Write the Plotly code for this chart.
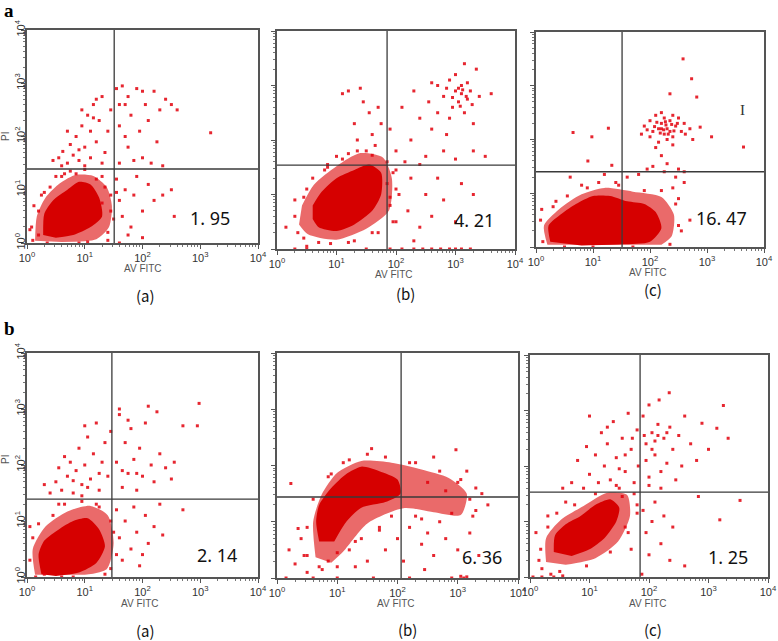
import plotly.graph_objects as go

W, H = 778, 641

# ---- data, all values in log10 decades (channel value = 10**v) ----
gate_x = [1.51, 1.85, 1.51, 1.47, 2.06, 1.85]
gate_y = [1.39, 1.54, 1.40, 1.39, 1.44, 1.53]
pct_labels = ["1. 95", "4. 21", "16. 47", "2. 14", "6. 36", "1. 25"]
sub_labels = ["(a)", "(b)", "(c)", "(a)", "(b)", "(c)"]
row_labels = ["a", "b"]
decade_ticks = [0, 1, 2, 3, 4]

# row a, panel (a)
aa_core = [(0.28, 0.15), (0.3, 0.55), (0.45, 0.8), (0.7, 1.0), (0.9, 1.15), (1.1, 1.1),
           (1.25, 0.85), (1.3, 0.5), (1.1, 0.3), (0.8, 0.15), (0.5, 0.1)]
aa_halo = [(0.14, 0.04), (0.17, 0.5), (0.32, 0.85), (0.57, 1.12), (0.85, 1.28), (1.15, 1.26),
           (1.38, 1.05), (1.47, 0.7), (1.42, 0.3), (1.2, 0.07), (0.6, 0.02)]
aa_pts = [(0.45, 1.55), (0.55, 1.6), (0.62, 1.72), (0.7, 1.5), (0.75, 1.85), (0.8, 1.65), (0.85, 2.0),
          (0.9, 1.55), (0.95, 2.2), (1.0, 1.8), (1.05, 2.4), (1.1, 1.6), (1.1, 2.1), (1.15, 2.6),
          (1.2, 1.9), (1.25, 2.3), (1.3, 2.75), (1.35, 1.7), (1.4, 2.1), (1.45, 2.5), (0.6, 1.45),
          (1.0, 1.45), (0.95, 2.5), (1.2, 2.7), (0.7, 2.1), (1.3, 1.5), (0.9, 1.75), (1.15, 2.35),
          (1.55, 2.9), (1.65, 2.95), (1.7, 2.6), (1.6, 2.2), (1.75, 1.8), (1.8, 2.4), (1.9, 2.9),
          (1.95, 2.1), (2.0, 1.6), (2.05, 2.6), (2.1, 2.3), (2.2, 2.85), (2.25, 1.9), (2.3, 2.5),
          (2.4, 2.7), (2.5, 2.6), (2.6, 2.5), (1.6, 1.5), (1.85, 1.55), (2.35, 1.45), (3.18, 2.07),
          (1.7, 2.0), (2.15, 1.5), (1.75, 2.75), (2.0, 2.85), (1.6, 2.6),
          (1.55, 1.2), (1.6, 0.8), (1.65, 0.5), (1.7, 1.0), (1.8, 0.3), (1.85, 0.9), (1.9, 1.25),
          (2.0, 0.6), (2.1, 1.1), (2.2, 0.8), (2.35, 0.9), (2.5, 1.0), (2.55, 0.5), (1.75, 0.15),
          (1.6, 0.0), (2.0, 0.1),
          (0.05, 0.25), (0.1, 0.05), (0.2, 0.6), (0.3, 0.95), (0.5, 1.25), (0.85, 1.3), (1.3, 1.25),
          (1.4, 0.2), (0.35, 0.0), (0.9, 0.0), (1.45, 0.9),
          (0.08, 0.3), (0.12, 0.7), (0.25, 0.9), (0.4, 1.05), (0.6, 1.25), (0.75, 1.35), (1.0, 1.38),
          (1.2, 1.2), (1.35, 1.05), (1.45, 0.6), (1.5, 0.45), (1.4, 0.05), (1.05, 0.02), (0.2, 0.15),
          (0.65, 1.3), (1.55, 0.95), (1.3, 0.75)]

# row a, panel (b)
ab_core = [(0.6, 0.55), (0.7, 0.4), (1.0, 0.33), (1.3, 0.45), (1.6, 0.7), (1.75, 1.0), (1.75, 1.4),
           (1.55, 1.55), (1.3, 1.45), (1.0, 1.3), (0.75, 1.05), (0.6, 0.8)]
ab_halo = [(0.37, 0.45), (0.52, 0.27), (1.0, 0.17), (1.5, 0.37), (1.88, 0.7), (1.93, 1.3), (1.78, 1.68),
           (1.4, 1.76), (1.0, 1.52), (0.62, 1.18), (0.42, 0.8)]
ab_pts = [(1.2, 2.9), (1.4, 2.95), (1.45, 2.7), (1.3, 2.3), (1.55, 2.5), (1.6, 2.1), (1.65, 1.9),
          (1.5, 1.8), (1.7, 2.6), (1.2, 1.75), (1.0, 1.7), (0.85, 1.5), (1.75, 2.3), (1.35, 2.0),
          (1.1, 2.85),
          (1.9, 2.2), (2.0, 1.8), (2.1, 2.6), (2.15, 1.6), (2.25, 2.0), (2.3, 2.9), (2.4, 2.4),
          (2.5, 1.7), (2.55, 2.7), (2.6, 2.2), (2.7, 3.0), (2.7, 2.5), (2.8, 2.8), (2.85, 2.1),
          (2.9, 3.1), (2.95, 2.6), (3.0, 2.9), (3.0, 3.2), (3.05, 2.7), (3.1, 3.0), (3.1, 2.85),
          (3.15, 2.5), (3.2, 3.05), (3.2, 2.75), (3.25, 2.9), (3.3, 2.3), (3.35, 3.3), (3.4, 2.8),
          (3.5, 1.7), (3.6, 2.85), (2.8, 1.8), (3.0, 1.65), (2.4, 1.55), (3.3, 1.8), (2.9, 2.4),
          (3.15, 3.4), (2.6, 3.05), (3.05, 2.95), (3.12, 2.92), (3.18, 2.8), (2.95, 2.78),
          (3.08, 2.62), (2.85, 2.95), (3.28, 2.65),
          (1.85, 1.2), (1.9, 0.8), (2.0, 0.5), (2.05, 1.0), (2.2, 0.7), (2.25, 1.3), (2.4, 0.4),
          (2.5, 1.0), (2.6, 0.6), (2.7, 1.3), (2.8, 0.9), (3.0, 0.5), (3.1, 1.2), (3.3, 1.0),
          (1.95, 1.4), (2.3, 0.15),
          (1.9, 0.0), (2.1, 0.0), (2.3, 0.0), (2.45, 0.0), (2.6, 0.0), (2.75, 0.0), (2.9, 0.0),
          (3.0, 0.0), (3.1, 0.0), (3.25, 0.0), (0.3, 0.0), (0.5, 0.0), (1.5, 0.0),
          (0.15, 0.4), (0.3, 0.9), (0.45, 0.2), (0.5, 1.1), (0.9, 0.1), (1.3, 0.15), (1.6, 0.3),
          (0.8, 1.45),
          (0.35, 0.3), (0.3, 0.6), (0.45, 0.95), (0.6, 1.3), (0.85, 1.55), (1.1, 1.65), (1.35, 1.8),
          (1.6, 1.72), (1.85, 1.6), (2.0, 1.1), (1.95, 0.5), (1.7, 0.3), (1.2, 0.12), (0.7, 0.12),
          (0.5, 0.05), (1.9, 0.95), (2.0, 1.45)]

# row a, panel (c)
ac_core = [(0.25, 0.1), (0.22, 0.4), (0.45, 0.62), (0.7, 0.8), (1.0, 0.95), (1.3, 0.95), (1.6, 0.85),
           (1.9, 0.8), (2.1, 0.65), (2.2, 0.35), (2.0, 0.1), (1.5, 0.05), (0.8, 0.03)]
ac_halo = [(0.2, 0.04), (0.14, 0.4), (0.4, 0.7), (0.8, 0.98), (1.2, 1.1), (1.7, 1.03), (2.2, 0.93),
           (2.42, 0.6), (2.38, 0.2), (2.2, 0.04)]
ac_pts = [(1.85, 2.1), (1.9, 2.25), (2.0, 2.35), (2.05, 2.15), (2.1, 2.45), (2.15, 2.2), (2.2, 2.3),
          (2.25, 2.1), (2.25, 2.4), (2.3, 2.2), (2.35, 2.35), (2.4, 2.05), (2.45, 2.25), (2.5, 2.4),
          (2.55, 2.15), (2.6, 2.3), (2.7, 2.2), (2.75, 2.0), (2.2, 2.5), (2.3, 2.0), (2.15, 1.95),
          (2.4, 2.45), (2.0, 2.05), (2.35, 2.15), (2.2, 2.2), (2.28, 2.27), (2.12, 2.32),
          (2.18, 2.12), (2.24, 2.18), (2.32, 2.1), (2.38, 2.28), (2.08, 2.24), (2.42, 2.16),
          (2.27, 2.33), (1.95, 2.18), (2.62, 2.1), (2.48, 2.3),
          (2.1, 1.85), (2.2, 1.7), (2.3, 1.55), (2.05, 1.5), (2.4, 1.9), (1.95, 1.45), (2.5, 1.45),
          (2.6, 1.4), (2.25, 1.4),
          (2.58, 3.5), (2.73, 3.13), (2.82, 2.79), (2.35, 2.85), (3.64, 1.86), (0.65, 2.13),
          (0.98, 2.05), (1.27, 2.21), (0.91, 1.6), (1.33, 1.52), (3.08, 2.05), (2.88, 2.23),
          (2.5, 0.9), (2.6, 1.2), (2.45, 1.3), (2.7, 0.5), (2.55, 0.3), (2.4, 1.1),
          (0.6, 1.3), (1.2, 1.35), (1.6, 1.3), (1.8, 1.35), (0.8, 1.15), (1.4, 1.2), (0.1, 0.7),
          (0.12, 0.1), (0.08, 0.5), (0.3, 0.75), (0.55, 0.95), (0.9, 1.1), (1.1, 1.2), (1.45, 1.15),
          (1.9, 1.05), (2.2, 1.05), (2.45, 0.8), (2.5, 0.4), (2.35, 0.05), (1.7, 0.0), (1.0, 0.0),
          (0.5, 0.0), (0.35, 0.85)]

# row b, panel (a)
ba_core = [(0.25, 0.05), (0.2, 0.4), (0.3, 0.65), (0.55, 0.85), (0.8, 1.0), (1.05, 1.05), (1.25, 0.85),
           (1.35, 0.55), (1.2, 0.25), (0.9, 0.08), (0.5, 0.02)]
ba_halo = [(0.14, 0.04), (0.1, 0.5), (0.32, 0.9), (0.7, 1.17), (1.1, 1.27), (1.4, 1.1), (1.5, 0.6),
           (1.38, 0.14), (1.0, 0.04)]
ba_pts = [(0.4, 1.5), (0.5, 1.7), (0.55, 1.95), (0.6, 1.55), (0.7, 1.8), (0.75, 2.05), (0.8, 1.5),
          (0.85, 1.9), (0.9, 2.3), (0.95, 1.65), (1.0, 2.0), (1.05, 2.5), (1.1, 1.75), (1.15, 2.2),
          (1.2, 2.75), (1.25, 1.55), (1.3, 2.05), (1.35, 2.4), (1.4, 1.8), (1.45, 2.6), (0.65, 2.15),
          (1.0, 2.7), (0.3, 1.65), (0.95, 1.45), (0.8, 1.72), (1.05, 1.6), (1.25, 1.85),
          (1.55, 2.05), (1.6, 2.9), (1.65, 1.6), (1.7, 2.4), (1.75, 1.85), (1.8, 2.65), (1.85, 2.1),
          (1.9, 1.55), (1.95, 2.3), (2.0, 1.8), (2.05, 2.75), (2.1, 3.05), (2.15, 2.0), (2.2, 1.7),
          (2.25, 2.95), (2.3, 2.2), (2.4, 1.95), (2.5, 1.75), (2.55, 2.05), (2.7, 2.7), (2.95, 2.7),
          (2.98, 3.1), (1.6, 3.0), (1.75, 2.8), (1.65, 1.9), (1.9, 1.85),
          (1.55, 1.2), (1.6, 0.7), (1.65, 0.3), (1.7, 1.0), (1.8, 0.5), (1.85, 1.25), (1.9, 0.8),
          (2.0, 0.4), (2.05, 1.1), (2.1, 0.6), (2.2, 0.9), (2.3, 1.3), (2.7, 1.2), (1.95, 0.2),
          (2.35, 0.75),
          (0.05, 0.9), (0.15, 0.0), (0.3, 0.05), (0.55, 1.3), (1.2, 1.3), (1.45, 0.15), (0.8, 0.0),
          (0.05, 0.3), (0.1, 0.7), (0.2, 0.95), (0.45, 1.1), (0.65, 1.3), (0.95, 1.35), (1.25, 1.25),
          (1.45, 1.0), (1.55, 0.4), (1.35, 0.05), (0.6, 0.0), (1.5, 0.8)]

# row b, panel (b)
bb_core = [(0.7, 0.65), (0.65, 1.0), (0.7, 1.3), (0.9, 1.6), (1.15, 1.85), (1.4, 1.98), (1.7, 1.9),
           (2.0, 1.75), (2.05, 1.5), (1.8, 1.35), (1.4, 1.25), (1.15, 1.0), (0.95, 0.65)]
bb_halo = [(0.64, 0.37), (0.6, 1.0), (0.74, 1.48), (1.0, 1.87), (1.4, 2.08), (1.9, 2.05), (2.4, 1.93),
           (2.85, 1.78), (3.15, 1.5), (3.05, 1.12), (2.6, 1.17), (2.1, 1.24), (1.5, 0.97), (1.1, 0.47),
           (0.9, 0.27)]
bb_pts = [(0.23, 1.68), (0.35, 0.88), (0.2, 0.5), (0.3, 0.25), (0.45, 0.4), (0.5, 0.1), (0.4, 0.7),
          (0.6, 0.0), (0.15, 0.0), (1.0, 0.0), (1.6, 0.0), (2.2, 0.0), (2.9, 0.0), (3.1, 0.0),
          (3.15, 0.02), (3.05, 0.03), (1.57, 2.3), (2.97, 2.28), (2.6, 2.15), (3.15, 1.9),
          (3.4, 1.5), (3.5, 1.3), (3.3, 1.2), (1.2, 0.5), (1.4, 0.7), (1.5, 0.3), (1.7, 0.9),
          (1.8, 0.5), (1.9, 1.1), (2.0, 0.7), (2.1, 0.3), (2.2, 0.9), (2.3, 1.1), (2.4, 0.6),
          (2.5, 0.8), (2.6, 0.4), (2.7, 1.0), (2.8, 0.7), (2.9, 1.15), (3.0, 0.5), (3.2, 0.8),
          (2.45, 0.15), (1.3, 0.2), (0.85, 0.3), (1.0, 0.45), (0.75, 0.15), (3.35, 0.4),
          (1.1, 2.05), (0.9, 1.85), (2.2, 2.05), (2.5, 1.7), (2.8, 1.55), (3.0, 1.7), (3.2, 1.4),
          (0.5, 0.4), (0.5, 0.9), (0.6, 1.4), (0.85, 1.8), (1.2, 2.1), (1.5, 2.2), (1.8, 2.15),
          (2.3, 2.05), (2.7, 1.9), (3.05, 1.75), (3.3, 1.6), (3.25, 1.1), (2.4, 1.05), (1.7, 0.85),
          (1.3, 0.65), (1.0, 0.2), (0.7, 0.2)]

# row b, panel (c)
bc_core = [(0.4, 0.45), (0.42, 0.75), (0.6, 0.95), (0.85, 1.1), (1.1, 1.3), (1.35, 1.4), (1.5, 1.25),
           (1.45, 1.0), (1.25, 0.7), (1.0, 0.5), (0.7, 0.38)]
bc_halo = [(0.27, 0.27), (0.27, 0.7), (0.52, 1.03), (0.9, 1.28), (1.3, 1.52), (1.63, 1.48), (1.68, 1.1),
           (1.48, 0.64), (1.1, 0.34), (0.6, 0.22)]
bc_pts = [(0.7, 1.7), (0.8, 2.1), (0.9, 1.6), (0.95, 2.35), (1.0, 1.85), (1.1, 2.2), (1.15, 1.7),
          (1.2, 2.6), (1.25, 2.0), (1.3, 2.4), (1.35, 1.75), (1.4, 2.8), (1.45, 2.15), (1.5, 1.6),
          (1.55, 2.5), (1.6, 1.9), (1.65, 2.95), (1.7, 2.3), (1.75, 1.7), (1.8, 2.65), (1.82, 2.0),
          (1.0, 2.9), (0.55, 1.6), (1.3, 2.7), (1.6, 2.2), (1.72, 2.5), (1.5, 1.95),
          (1.9, 2.9), (1.95, 2.4), (2.0, 3.1), (2.0, 1.8), (2.05, 2.6), (2.1, 2.2), (2.15, 2.75),
          (2.17, 3.19), (2.2, 1.9), (2.25, 2.5), (2.3, 2.05), (2.34, 3.32), (2.35, 2.7), (2.4, 2.3),
          (2.45, 1.75), (2.5, 2.55), (2.55, 2.0), (2.6, 2.9), (2.7, 2.4), (2.89, 2.77), (3.14, 2.68),
          (3.25, 3.09), (3.33, 2.5), (2.0, 1.65), (2.2, 1.6), (1.95, 2.1), (2.1, 2.45), (2.3, 2.6),
          (2.8, 2.1), (3.0, 2.3), (1.92, 2.55), (2.05, 2.3), (2.15, 2.55),
          (1.9, 1.2), (1.95, 0.8), (2.0, 0.4), (2.05, 1.0), (2.1, 1.35), (2.2, 0.6), (2.25, 1.1),
          (2.35, 0.3), (2.4, 0.9), (2.83, 1.45), (3.19, 1.03), (3.53, 1.38), (2.6, 0.2), (1.88, 0.05),
          (0.05, 0.0), (0.2, 0.0), (0.4, 0.0), (0.55, 0.02), (0.15, 0.3), (0.1, 0.8), (0.6, 1.35),
          (1.7, 0.5), (1.6, 0.9), (1.55, 1.45), (1.8, 1.3), (0.3, 1.1),
          (0.2, 0.15), (0.18, 0.5), (0.3, 0.9), (0.45, 1.15), (0.75, 1.3), (1.1, 1.5), (1.45, 1.65),
          (1.75, 1.5), (1.8, 1.15), (1.65, 0.8), (1.35, 0.45), (0.95, 0.2), (0.5, 0.1), (0.35, 0.05)]

cores = [aa_core, ab_core, ac_core, ba_core, bb_core, bc_core]
halos = [aa_halo, ab_halo, ac_halo, ba_halo, bb_halo, bc_halo]
points = [aa_pts, ab_pts, ac_pts, ba_pts, bb_pts, bc_pts]

# ---- layout: panel boxes in pixels (left, right, top, bottom) ----
boxes = [(27, 258, 30, 243), (277, 515, 31, 249), (536, 764, 32, 247),
         (27, 258, 353, 577), (277, 518, 353, 578), (530, 768, 355, 577)]
pct_pos = [(210, 218), (474, 220), (721, 218), (217, 555), (482, 557), (728, 557)]
sub_pos = [(145, 295), (405, 293), (653, 290), (145, 630), (407, 629), (653, 629)]
fitc_pos = [(143, 268), (394, 274), (648, 272), (140, 603), (396, 603), (648, 603)]


def lin(vals):
    return [10 ** v for v in vals]


def px(x):
    return x / W


def py(y):
    return 1 - y / H


def label(text, x, y, font, angle=0):
    fig.add_annotation(text=text, x=px(x), y=py(y), xref="paper", yref="paper",
                       xanchor="center", yanchor="middle", showarrow=False,
                       textangle=angle, font=font)


fig = go.Figure()
tickvals = [10 ** d for d in decade_ticks]
ticktext = [f"10<sup>{d}</sup>" for d in decade_ticks]
smooth = dict(width=0, shape="spline", smoothing=0.7)

for i in range(6):
    xa, ya = f"x{i + 1}", f"y{i + 1}"
    hx, hy = zip(*halos[i])
    cx, cy = zip(*cores[i])
    sx, sy = zip(*points[i])
    fig.add_trace(go.Scatter(x=lin(hx), y=lin(hy), xaxis=xa, yaxis=ya, mode="lines",
                             fill="toself", fillcolor="rgba(220,6,6,0.6)",
                             line=smooth, hoverinfo="skip"))
    fig.add_trace(go.Scatter(x=lin(cx), y=lin(cy), xaxis=xa, yaxis=ya, mode="lines",
                             fill="toself", fillcolor="#d60000",
                             line=smooth, hoverinfo="skip"))
    fig.add_trace(go.Scatter(x=lin(sx), y=lin(sy), xaxis=xa, yaxis=ya, mode="markers",
                             marker=dict(symbol="square", size=3, color="#e2000c",
                                         opacity=0.85, line=dict(width=0))))
    gx, gy = 10 ** gate_x[i], 10 ** gate_y[i]
    fig.add_trace(go.Scatter(x=[gx, gx, None, 1, 10 ** 4], y=[1, 10 ** 4, None, gy, gy],
                             xaxis=xa, yaxis=ya, mode="lines",
                             line=dict(color="#3a3a3a", width=1.3), hoverinfo="skip"))

    l, r, t, b = boxes[i]
    first = i % 3 == 0
    axis_common = dict(type="log", range=[0, 4], showgrid=False, zeroline=False,
                       automargin=False,
                       showline=True, mirror=True, linecolor="#555555", linewidth=1.5,
                       ticks="outside", ticklen=4, tickcolor="#555555",
                       tickvals=tickvals, ticktext=ticktext,
                       tickfont=dict(family="Liberation Sans", size=11, color="#333333"),
                       minor=dict(ticks="outside", ticklen=2, tickcolor="#777777", dtick="D1"))
    fig.layout[f"xaxis{i + 1}"] = dict(axis_common, domain=[px(l), px(r)], anchor=ya)
    fig.layout[f"yaxis{i + 1}"] = dict(axis_common, domain=[py(b), py(t)], anchor=xa,
                                       tickangle=-90, showticklabels=first,
                                       ticklabelstandoff=-8)

    label(pct_labels[i], *pct_pos[i], dict(family="Noto Sans", size=18, color="#111111"))
    label(sub_labels[i], *sub_pos[i], dict(family="Noto Sans CJK SC", size=15, color="#111111"))
    label("AV FITC", *fitc_pos[i], dict(family="Liberation Sans", size=10, color="#555555"))

# PI titles on the first panel of each row
for y_pi in [137, 460]:
    label("PI", 5, y_pi, dict(family="Liberation Sans", size=10, color="#555555"), angle=-90)

# row letters
for lab, y_lab in zip(row_labels, [11, 328]):
    label(f"<b>{lab}</b>", 9, y_lab, dict(family="Liberation Serif", size=19, color="#000000"))

# cursor mark in panel a(c)
label("I", 742, 110, dict(family="Liberation Serif", size=15, color="#333333"))

fig.update_layout(width=W, height=H, margin=dict(l=0, r=0, t=0, b=0),
                  paper_bgcolor="white", plot_bgcolor="white", showlegend=False)

# drop the default 8px page margin so the figure sits at the window corner
fig.write_html("out.html", config={"displayModeBar": False},
               post_script="document.body.style.margin = '0px';")
